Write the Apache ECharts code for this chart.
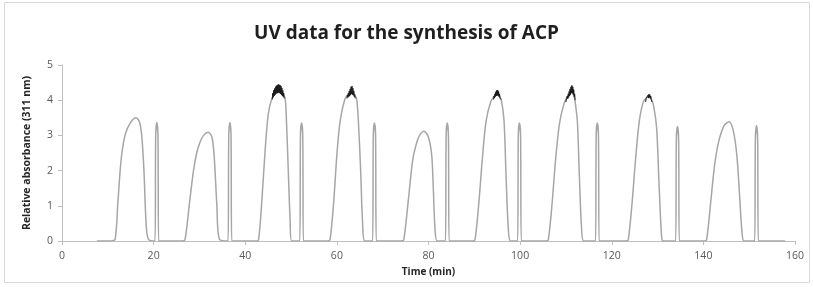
<!DOCTYPE html>
<html>
<head>
<meta charset="utf-8">
<script src="https://cdn.jsdelivr.net/npm/echarts@6/dist/echarts.min.js"></script>
<style>
  html, body { margin: 0; padding: 0; background: #fff; }
  #uvChart { width: 813px; height: 287px; }
</style>
</head>
<body>
<div id="uvChart"></div>
<script>
// [time (min), relative absorbance], one array per cycle
var cycle1 = [[7.6,0],[10.7,0],[11.6,0.05],[12.2,1.1],[12.9,2.3],[13.75,3.0],[14.84,3.34],[16.15,3.5],[16.9,3.39],[17.4,3.0],[17.9,1.97],[18.34,0.55],[18.85,0.05],[20.3,0],[20.45,3.0],[20.7,3.37],[20.95,3.0],[21.1,0]];
var cycle2 = [[26.3,0],[26.85,0.03],[27.9,1.16],[28.7,2.0],[29.4,2.5],[30.1,2.8],[30.9,3.0],[31.9,3.09],[32.7,2.96],[33.2,2.44],[33.8,1.02],[34.35,0.05],[36.25,0],[36.4,3.0],[36.65,3.37],[36.9,3.0],[37.05,0]];
var cycle3 = [[42.4,0],[42.9,0.03],[43.6,1.1],[44.3,2.5],[45.0,3.58],[45.8,4.05],[46.6,4.2],[47.3,4.28],[48.1,4.2],[48.7,4.05],[49.0,3.39],[49.4,1.97],[49.8,0.55],[50.1,0],[51.9,0],[52.05,3.0],[52.3,3.35],[52.55,3.0],[52.7,0]];
var cycle4 = [[58.0,0],[58.5,0.03],[59.3,1.1],[60.0,2.45],[60.7,3.39],[61.8,4.05],[62.6,4.18],[63.2,4.25],[63.8,4.15],[64.3,4.05],[64.7,3.39],[65.2,1.97],[65.6,0.55],[66.1,0],[67.8,0],[67.95,3.0],[68.2,3.35],[68.45,3.0],[68.6,0]];
var cycle5 = [[74.1,0],[74.6,0.03],[75.6,1.16],[76.55,2.3],[77.6,2.87],[78.3,3.05],[79.0,3.12],[79.96,2.96],[80.7,2.44],[81.05,1.5],[81.4,0.4],[81.9,0],[83.7,0],[83.85,3.0],[84.1,3.35],[84.35,3.0],[84.5,0]];
var cycle6 = [[89.65,0],[90.15,0.03],[91.0,1.1],[91.7,2.25],[92.55,3.39],[93.6,3.96],[94.4,4.12],[95.0,4.18],[95.6,4.1],[95.97,3.96],[96.5,3.39],[96.9,1.97],[97.4,0.4],[97.9,0],[99.45,0],[99.6,3.0],[99.85,3.35],[100.1,3.0],[100.25,0]];
var cycle7 = [[105.65,0],[106.15,0.03],[107.0,1.1],[107.7,2.25],[108.55,3.3],[109.6,3.91],[110.5,4.12],[111.2,4.25],[111.7,4.15],[112.0,3.96],[112.5,3.39],[112.9,1.97],[113.4,0.4],[113.9,0],[116.45,0],[116.6,3.0],[116.85,3.35],[117.1,3.0],[117.25,0]];
var cycle8 = [[123.1,0],[123.6,0.03],[124.45,1.1],[125.15,2.25],[126.0,3.39],[126.9,3.96],[127.7,4.08],[128.1,4.12],[128.6,4.05],[129.1,3.86],[129.8,3.2],[130.3,1.69],[130.9,0.1],[131.3,0],[133.95,0],[134.1,2.9],[134.35,3.25],[134.6,2.9],[134.75,0]];
var cycle9 = [[140.2,0],[140.7,0.03],[141.6,1.1],[142.4,2.1],[143.3,2.8],[144.5,3.27],[145.6,3.39],[146.5,3.15],[147.3,2.44],[147.9,1.31],[148.4,0.3],[148.9,0],[151.2,0],[151.35,2.9],[151.6,3.28],[151.85,2.9],[152.0,0],[157.8,0]];

// detector noise at the top of the saturated peaks
var noise3 = [[45.9,4.02],[46.0,4.2],[46.1,4.08],[46.2,4.28],[46.3,4.12],[46.4,4.33],[46.5,4.15],[46.6,4.38],[46.7,4.18],[46.8,4.41],[46.9,4.2],[47.0,4.43],[47.1,4.2],[47.2,4.45],[47.3,4.22],[47.4,4.44],[47.5,4.2],[47.6,4.43],[47.7,4.18],[47.8,4.4],[47.9,4.15],[48.0,4.35],[48.1,4.12],[48.2,4.28],[48.3,4.1],[48.4,4.2],[48.5,4.05]];
var noise4 = [[62.2,4.05],[62.3,4.15],[62.4,4.08],[62.5,4.2],[62.6,4.1],[62.7,4.26],[62.8,4.12],[62.9,4.32],[63.0,4.15],[63.1,4.38],[63.2,4.18],[63.3,4.4],[63.4,4.16],[63.5,4.34],[63.6,4.14],[63.7,4.26],[63.8,4.1],[63.9,4.16],[64.0,4.05]];
var noise6 = [[94.2,4.02],[94.3,4.12],[94.4,4.06],[94.5,4.18],[94.6,4.1],[94.7,4.24],[94.8,4.12],[94.9,4.28],[95.0,4.14],[95.1,4.29],[95.2,4.12],[95.3,4.25],[95.4,4.1],[95.5,4.18],[95.6,4.06],[95.7,4.1],[95.8,4.02]];
var noise7 = [[110.0,3.95],[110.1,4.05],[110.2,4.0],[110.3,4.12],[110.4,4.04],[110.5,4.18],[110.6,4.08],[110.7,4.25],[110.8,4.12],[110.9,4.32],[111.0,4.16],[111.1,4.38],[111.2,4.2],[111.3,4.42],[111.4,4.2],[111.5,4.38],[111.6,4.16],[111.7,4.3],[111.8,4.1],[111.9,4.18],[112.0,4.0]];
var noise8 = [[127.4,3.95],[127.5,4.05],[127.6,4.0],[127.7,4.1],[127.8,4.04],[127.9,4.14],[128.0,4.06],[128.1,4.17],[128.2,4.08],[128.3,4.16],[128.4,4.05],[128.5,4.12],[128.6,4.02],[128.7,4.06],[128.8,3.95]];

var trace = [].concat(cycle1, cycle2, cycle3, cycle4, cycle5, cycle6, cycle7, cycle8, cycle9);
var noiseBits = [noise3, noise4, noise6, noise7, noise8];

var myChart = echarts.init(document.getElementById("uvChart"));

var axisGray = "#bfbfbf";
var labelStyle = { color: "#595959", fontSize: 10.5, fontFamily: "Open Sans" };

var series = [{
    type: "line",
    data: trace,
    showSymbol: false,
    smooth: 0.3,
    lineStyle: { color: "#a6a6a6", width: 1.5 },
    z: 2
}];
noiseBits.forEach(function (bit) {
    series.push({
        type: "line",
        data: bit,
        showSymbol: false,
        lineStyle: { color: "#1a1a1a", width: 1 },
        z: 3
    });
});

var option = {
    animation: false,
    backgroundColor: "#fff",
    title: {
        text: "UV data for the synthesis of ACP",
        left: "center",
        top: 19,
        textStyle: { fontFamily: "Open Sans", fontWeight: "bold", fontSize: 19, color: "#1f1f1f" }
    },
    graphic: [{
        type: "rect",
        shape: { x: 4.5, y: 2.5, width: 805, height: 280 },
        style: { fill: null, stroke: "#d9d9d9", lineWidth: 1 },
        silent: true
    }],
    grid: { left: 62, right: 18, top: 65, bottom: 46 },
    xAxis: {
        type: "value",
        min: 0,
        max: 160,
        interval: 20,
        name: "Time (min)",
        nameLocation: "middle",
        nameGap: 25,
        nameTextStyle: { fontFamily: "Open Sans", fontWeight: "bold", fontSize: 10, color: "#262626" },
        axisLine: { show: true, lineStyle: { color: axisGray } },
        axisTick: { show: true, length: 4, lineStyle: { color: axisGray } },
        axisLabel: Object.assign({ margin: 10 }, labelStyle),
        splitLine: { show: false }
    },
    yAxis: {
        type: "value",
        min: 0,
        max: 5,
        interval: 1,
        name: "Relative absorbance (311 nm)",
        nameLocation: "middle",
        nameGap: 29,
        nameTextStyle: { fontFamily: "Open Sans", fontWeight: "bold", fontSize: 10.5, color: "#262626" },
        axisLine: { show: true, lineStyle: { color: axisGray } },
        axisTick: { show: true, length: 4, lineStyle: { color: axisGray } },
        axisLabel: Object.assign({ margin: 9 }, labelStyle),
        splitLine: { show: false }
    },
    series: series
};

myChart.setOption(option);
window.addEventListener("resize", function () {
    myChart.resize();
});
</script>
</body>
</html>
